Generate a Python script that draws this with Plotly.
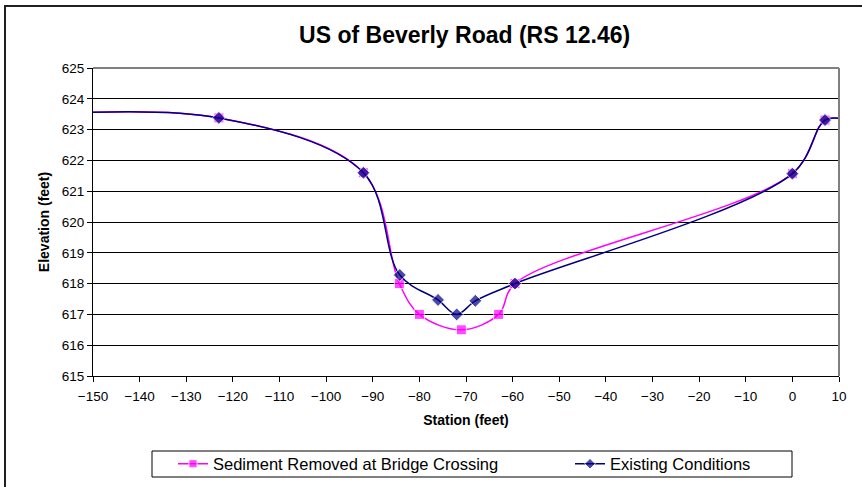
import plotly.graph_objects as go

# cross-section data (station in feet, elevation in feet)
sediment_station = [-170, -123, -92, -84.3, -80, -71, -63, -59.5, 0, 7, 11]
sediment_elev = [623.4, 623.38, 621.6, 618.0, 617.0, 616.5, 617.0, 618.0, 621.57, 623.31, 623.34]

existing_station = [-170, -123, -92, -84.2, -76, -72, -68, -59.5, 0, 7, 11]
existing_elev = [623.4, 623.38, 621.6, 618.28, 617.47, 617.0, 617.44, 618.0, 621.57, 623.31, 623.34]

x_ticks = list(range(-150, 11, 10))
y_ticks = list(range(615, 626))

font = 'Arial, Liberation Sans, sans-serif'


def marker_sizes(n, size):
    # end points sit off the chart, so no marker there
    return [0] + [size] * (n - 2) + [0]


def px_x(px):
    # pixel column -> paper x
    return (px - 93) / 746


def px_y(px):
    # pixel row -> paper y
    return (376 - px) / 308


fig = go.Figure()

fig.add_trace(go.Scatter(
    x=sediment_station,
    y=sediment_elev,
    name='Sediment Removed at Bridge Crossing',
    mode='lines+markers',
    line={'color': '#FF00FF', 'width': 1.5, 'shape': 'spline', 'smoothing': 1},
    marker={'symbol': 'square', 'size': marker_sizes(len(sediment_station), 10), 'color': '#FF00FF'},
    legend='legend'
))

fig.add_trace(go.Scatter(
    x=existing_station,
    y=existing_elev,
    name='Existing Conditions',
    mode='lines+markers',
    line={'color': '#000080', 'width': 1.5, 'shape': 'spline', 'smoothing': 1},
    marker={'symbol': 'diamond', 'size': marker_sizes(len(existing_station), 10), 'color': '#000080'},
    legend='legend2'
))

legend_style = {
    'orientation': 'h',
    'xanchor': 'left',
    'y': px_y(464),
    'yanchor': 'middle',
    'font': {'size': 16.5, 'family': font},
    'bgcolor': 'rgba(0,0,0,0)'
}

fig.update_layout(
    width=862,
    height=487,
    margin={'l': 93, 'r': 23, 't': 68, 'b': 111, 'autoexpand': False},
    paper_bgcolor='white',
    plot_bgcolor='white',
    font={'family': font, 'size': 13, 'color': 'black'},
    title={
        'text': '<b>US of Beverly Road (RS 12.46)</b>',
        'font': {'size': 23, 'family': font, 'color': 'black'},
        'x': 0.539,
        'xanchor': 'center',
        'y': 0.928,
        'yanchor': 'middle'
    },
    showlegend=True,
    legend=dict(legend_style, x=px_x(173)),
    legend2=dict(legend_style, x=px_x(570)),
    shapes=[
        # legend box
        {'type': 'rect', 'xref': 'paper', 'yref': 'paper',
         'x0': px_x(152), 'x1': px_x(792),
         'y0': px_y(477), 'y1': px_y(451),
         'line': {'color': 'black', 'width': 1}},
        # outer chart border
        {'type': 'rect', 'xref': 'paper', 'yref': 'paper',
         'x0': px_x(5), 'x1': px_x(890),
         'y0': px_y(520), 'y1': px_y(6),
         'line': {'color': '#202020', 'width': 2}},
    ]
)

fig.update_xaxes(
    range=[-150, 10],
    tickvals=x_ticks,
    ticks='outside',
    ticklen=5,
    tickcolor='black',
    ticklabelstandoff=3,
    showline=True,
    linecolor='black',
    linewidth=1,
    mirror=False,
    showgrid=False,
    zeroline=False,
    tickfont={'size': 13.5},
    title={'text': '<b>Station (feet)</b>', 'font': {'size': 14}, 'standoff': 11}
)

fig.update_yaxes(
    range=[615, 625],
    tickvals=y_ticks,
    ticks='outside',
    ticklen=5,
    tickcolor='black',
    showline=True,
    linecolor='black',
    linewidth=1,
    showgrid=True,
    gridcolor='black',
    gridwidth=1,
    zeroline=False,
    tickfont={'size': 13.5},
    title={'text': '<b>Elevation (feet)</b>', 'font': {'size': 14}, 'standoff': 8}
)

# grey plot-area frame on top and right
fig.add_shape(type='line', xref='paper', yref='paper', x0=0, x1=1, y0=1, y1=1,
              line={'color': '#808080', 'width': 2})
fig.add_shape(type='line', xref='paper', yref='paper', x0=1, x1=1, y0=0, y1=1,
              line={'color': '#808080', 'width': 2})

fig.write_html("out.html", config={'displayModeBar': False},
               post_script="document.body.style.margin='0';")
